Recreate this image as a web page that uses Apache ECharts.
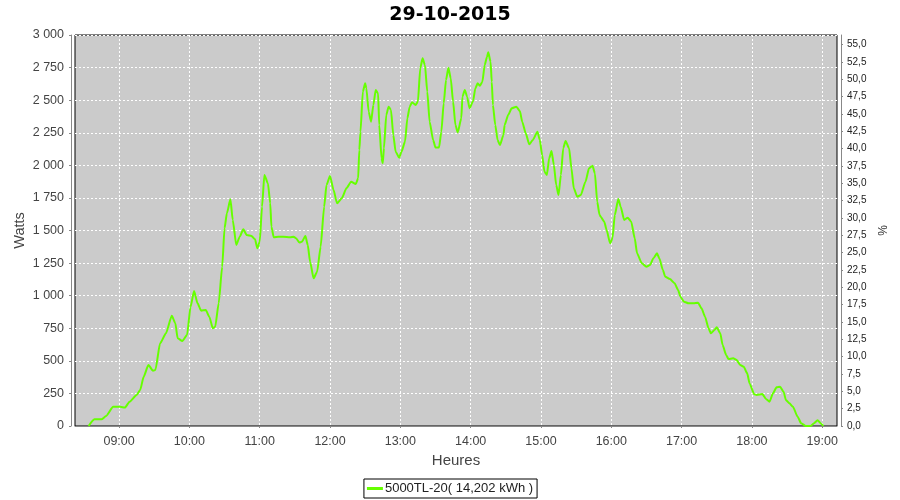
<!DOCTYPE html>
<html>
<head>
<meta charset="utf-8">
<script src="https://cdn.jsdelivr.net/npm/echarts@6/dist/echarts.min.js"></script>
<style>html,body{margin:0;padding:0;background:#fff;}#c{width:900px;height:500px;}</style>
</head>
<body>
<div id="c"></div>
<script>
const title = '29-10-2015';
const seriesName = '5000TL-20( 14,202 kWh )';
const times = ['08:34','08:39','08:45','08:49','08:55','09:01','09:05','09:09','09:15','09:18','09:21','09:25','09:29','09:31','09:35','09:40','09:45','09:48','09:50','09:54','09:58','10:01','10:04','10:07','10:10','10:14','10:17','10:20','10:22','10:25','10:28','10:30','10:32','10:35','10:37','10:40','10:43','10:46','10:49','10:53','10:56','10:58','11:00','11:02','11:04','11:07','11:09','11:10','11:12','11:16','11:20','11:26','11:29','11:31','11:34','11:36','11:39','11:41','11:43','11:46','11:49','11:52','11:55','11:57','12:00','12:03','12:06','12:10','12:14','12:18','12:22','12:24','12:25','12:26','12:28','12:30','12:31','12:33','12:35','12:37','12:39','12:41','12:42','12:44','12:45','12:46','12:48','12:50','12:52','12:54','12:56','12:59','13:01','13:04','13:06','13:08','13:10','13:13','13:15','13:17','13:19','13:21','13:23','13:25','13:28','13:30','13:33','13:35','13:37','13:39','13:41','13:43','13:45','13:47','13:49','13:52','13:53','13:55','13:57','13:59','14:02','14:04','14:06','14:08','14:10','14:12','14:14','14:15','14:17','14:18','14:19','14:21','14:23','14:25','14:28','14:29','14:32','14:35','14:39','14:42','14:44','14:47','14:50','14:53','14:57','14:59','15:01','15:03','15:05','15:07','15:09','15:11','15:13','15:15','15:17','15:19','15:21','15:24','15:26','15:28','15:31','15:34','15:38','15:41','15:44','15:46','15:48','15:50','15:51','15:54','15:56','15:59','16:01','16:03','16:06','16:08','16:11','16:14','16:17','16:20','16:22','16:26','16:30','16:33','16:36','16:39','16:41','16:44','16:46','16:50','16:54','16:57','16:59','17:02','17:06','17:10','17:14','17:17','17:20','17:23','17:25','17:28','17:30','17:33','17:35','17:38','17:40','17:44','17:47','17:50','17:53','17:56','17:58','18:02','18:04','18:09','18:12','18:15','18:18','18:21','18:24','18:27','18:29','18:32','18:35','18:39','18:42','18:46','18:50','18:53','18:56','18:59','19:01'];
const watts = [0,51,51,77,148,148,141,187,238,276,378,468,424,430,634,711,846,788,673,652,698,915,1036,941,885,890,839,750,762,941,1222,1517,1632,1739,1581,1389,1453,1509,1465,1458,1432,1363,1414,1683,1926,1862,1709,1529,1448,1453,1453,1448,1453,1440,1407,1414,1458,1389,1261,1133,1184,1376,1683,1849,1918,1811,1709,1747,1824,1875,1857,1900,2118,2258,2565,2629,2591,2412,2335,2463,2578,2553,2310,2054,2016,2131,2386,2450,2425,2233,2105,2059,2105,2182,2361,2450,2484,2463,2489,2745,2821,2770,2565,2335,2194,2136,2136,2258,2476,2655,2749,2668,2489,2310,2253,2361,2527,2578,2527,2438,2489,2591,2629,2611,2642,2770,2834,2867,2795,2642,2463,2310,2194,2156,2233,2310,2386,2438,2450,2417,2335,2246,2161,2194,2258,2194,2079,1951,1926,2054,2110,2003,1849,1772,1926,2131,2187,2131,1977,1824,1759,1772,1875,1977,1997,1939,1720,1619,1606,1568,1504,1402,1440,1619,1742,1683,1581,1598,1568,1440,1325,1249,1222,1235,1287,1325,1287,1197,1146,1128,1095,1044,992,954,941,941,946,903,839,750,711,737,757,711,622,545,514,519,506,468,455,404,327,243,238,245,207,187,251,297,302,263,199,174,148,71,21,0,0,21,44,18,0];
const hourTicks = ['09:00','10:00','11:00','12:00','13:00','14:00','15:00','16:00','17:00','18:00','19:00'];
const pctTicks = [0,2.5,5,7.5,10,12.5,15,17.5,20,22.5,25,27.5,30,32.5,35,37.5,40,42.5,45,47.5,50,52.5,55];

function toMin(s){const p=s.split(':');return (+p[0])*60+(+p[1]);}
function fmtMin(v){const h=Math.floor(v/60),m=Math.round(v-h*60);return (h<10?'0':'')+h+':'+(m<10?'0':'')+m;}
const data = times.map((t,i)=>[toMin(t),watts[i]]);
const xTickVals = hourTicks.map(toMin);

const chart = echarts.init(document.getElementById('c'), null, {renderer:'canvas'});
const LF = 'Liberation Sans';
chart.setOption({
  animation:false,
  backgroundColor:'#ffffff',
  title:{text:title,left:'center',top:6,padding:0,textStyle:{fontFamily:'DejaVu Sans',fontWeight:'bold',fontSize:19,color:'#000'}},
  legend:{bottom:2,left:'center',data:[seriesName],icon:'rect',itemWidth:16,itemHeight:3,itemGap:4,
    borderColor:'#000',borderWidth:1,padding:[3,4,3,3],
    textStyle:{fontFamily:LF,fontSize:13,color:'#222',padding:[0,0,0,-3]}},
  grid:{left:75,right:63,top:35,bottom:74,show:true,backgroundColor:'#cbcbcb',borderColor:'#000',borderWidth:1,containLabel:false},
  xAxis:{type:'value',min:502.4,max:1152.6,offset:4,
    name:'Heures',nameLocation:'middle',nameGap:21,nameTextStyle:{fontFamily:LF,fontSize:15,color:'#444'},
    axisLine:{show:true,lineStyle:{color:'#888',width:1}},
    axisTick:{show:true,length:2,customValues:xTickVals,lineStyle:{color:'#888'}},
    axisLabel:{customValues:xTickVals,formatter:fmtMin,margin:5,fontFamily:LF,fontSize:12.5,color:'#444'},
    splitLine:{show:true,lineStyle:{color:'#ffffff',width:1,type:[2,2]}}},
  yAxis:[
    {type:'value',min:0,max:3000,interval:250,offset:4,position:'left',
     name:'Watts',nameLocation:'middle',nameGap:44,nameRotate:90,nameMoveOverlap:false,nameTextStyle:{fontFamily:LF,fontSize:14.5,color:'#444'},
     axisLine:{show:true,lineStyle:{color:'#888'}},
     axisTick:{show:true,length:2,lineStyle:{color:'#888'}},
     axisLabel:{margin:7,fontFamily:LF,fontSize:12.5,color:'#444',formatter:v=>String(v).replace(/\B(?=(\d{3})+(?!\d))/g,' ')},
     splitLine:{show:true,lineStyle:{color:'#ffffff',width:1,type:[2,2]}}},
    {type:'value',min:0,max:56.4,offset:4,position:'right',
     name:'%',nameLocation:'middle',nameGap:33,nameRotate:90,nameTextStyle:{fontFamily:LF,fontSize:12,color:'#333'},
     axisLine:{show:true,lineStyle:{color:'#888'}},
     axisTick:{show:true,length:2,customValues:pctTicks,lineStyle:{color:'#888'}},
     axisLabel:{customValues:pctTicks,margin:6,fontFamily:LF,fontSize:10,color:'#222',formatter:v=>v.toFixed(1).replace('.',',')},
     splitLine:{show:false}}
  ],
  series:[{name:seriesName,type:'line',data:data,yAxisIndex:0,symbol:'none',smooth:0.2,smoothMonotone:'x',
    lineStyle:{color:'#66ff00',width:2},itemStyle:{color:'#66ff00'}}]
});
</script>
</body>
</html>
